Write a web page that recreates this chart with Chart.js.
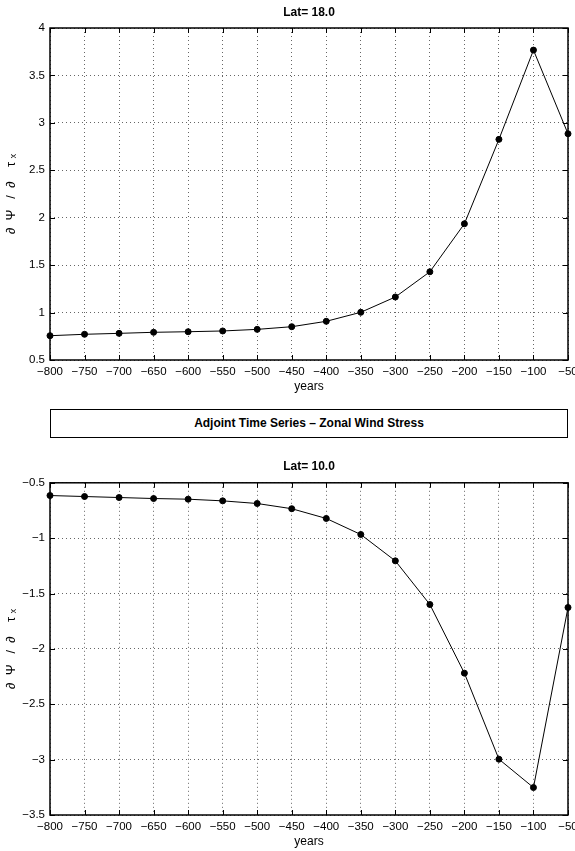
<!DOCTYPE html>
<html>
<head>
<meta charset="utf-8">
<script src="https://cdn.jsdelivr.net/npm/chart.js@4.4.1/dist/chart.umd.min.js"></script>
<style>
  body { margin: 0; background: #fff; width: 575px; height: 851px; position: relative; overflow: hidden; }
  canvas { position: absolute; left: 0; }
  #top-chart { top: 0; }
  #bottom-chart { top: 440px; }
  #legend-box {
    position: absolute; left: 50px; top: 409px; width: 516px; height: 27px;
    border: 1px solid #000; font: bold 12px "Liberation Sans", Arial, sans-serif;
    text-align: center; line-height: 27px; color: #000;
  }
</style>
</head>
<body>
<canvas id="top-chart" width="575" height="400"></canvas>
<div id="legend-box">Adjoint Time Series &#8211; Zonal Wind Stress</div>
<canvas id="bottom-chart" width="575" height="411"></canvas>
<script>
// x values (years)
const years = [-800, -750, -700, -650, -600, -550, -500, -450, -400, -350, -300, -250, -200, -150, -100, -50];

// dPsi/dTau_x at Lat 18.0
const lat18 = [0.756, 0.771, 0.781, 0.792, 0.798, 0.806, 0.823, 0.851, 0.908, 1.003, 1.164, 1.430, 1.936, 2.826, 3.767, 2.885];

// dPsi/dTau_x at Lat 10.0
const lat10 = [-0.615, -0.624, -0.633, -0.642, -0.648, -0.663, -0.687, -0.734, -0.822, -0.967, -1.205, -1.599, -2.219, -2.996, -3.252, -1.626];

const fontFamily = '"Liberation Sans", Arial, Helvetica, sans-serif';
const minus = v => String(v).replace('-', '\u2212');

// draws the box round the plot and the inward ticks (matlab style)
const frameTicks = {
  id: 'frameTicks',
  afterDraw(chart) {
    const { ctx, chartArea: a, scales } = chart;
    ctx.save();
    ctx.strokeStyle = '#000';
    ctx.lineWidth = 1;
    const len = 5;
    scales.x.ticks.forEach(t => {
      const px = Math.round(scales.x.getPixelForValue(t.value)) + 0.5;
      ctx.beginPath();
      ctx.moveTo(px, a.top); ctx.lineTo(px, a.top + len);
      ctx.moveTo(px, a.bottom); ctx.lineTo(px, a.bottom - len);
      ctx.stroke();
    });
    scales.y.ticks.forEach(t => {
      const py = Math.round(scales.y.getPixelForValue(t.value)) + 0.5;
      ctx.beginPath();
      ctx.moveTo(a.left, py); ctx.lineTo(a.left + len, py);
      ctx.moveTo(a.right, py); ctx.lineTo(a.right - len, py);
      ctx.stroke();
    });
    ctx.lineWidth = 1.5;
    ctx.strokeRect(a.left, a.top, a.right - a.left, a.bottom - a.top);
    ctx.restore();
  }
};

function makeChart(canvasId, title, values, yMin, yMax, titlePadTop, xHeight, titleBottomPad) {
  const ctx = document.getElementById(canvasId).getContext('2d');
  return new Chart(ctx, {
    type: 'line',
    data: {
      datasets: [{
        data: years.map((yr, i) => ({ x: yr, y: values[i] })),
        borderColor: '#000',
        backgroundColor: '#000',
        borderWidth: 1,
        pointRadius: 3,
        pointHoverRadius: 3,
        tension: 0,
        clip: false
      }]
    },
    options: {
      responsive: false,
      animation: false,
      events: [],
      layout: { padding: { left: 0, right: 7, top: 0, bottom: 0 } },
      plugins: {
        legend: { display: false },
        tooltip: { enabled: false },
        title: {
          display: true,
          text: title,
          fullSize: false,
          color: '#000',
          font: { family: fontFamily, size: 12, weight: 'bold', lineHeight: 1.2 },
          padding: { top: titlePadTop, bottom: 8.6 }
        }
      },
      scales: {
        x: {
          type: 'linear',
          min: -800,
          max: -50,
          afterFit: s => { s.height = xHeight; s.paddingLeft = 0; s.paddingRight = 0; },
          border: { display: false, dash: [1, 3] },
          grid: { color: '#666', lineWidth: 1, drawTicks: false },
          ticks: {
            stepSize: 50,
            padding: 5,
            color: '#000',
            maxRotation: 0,
            autoSkip: false,
            font: { family: fontFamily, size: 11.5 },
            callback: v => minus(v)
          },
          title: {
            display: true,
            text: 'years',
            color: '#000',
            font: { family: fontFamily, size: 12 },
            padding: { top: 0, bottom: titleBottomPad }
          }
        },
        y: {
          min: yMin,
          max: yMax,
          afterFit: s => { s.width = 50; s.paddingTop = 0; s.paddingBottom = 0; },
          border: { display: false, dash: [1, 3] },
          grid: { color: '#666', lineWidth: 1, drawTicks: false },
          ticks: {
            stepSize: 0.5,
            padding: 5,
            color: '#000',
            font: { family: fontFamily, size: 11.5 },
            callback: v => minus(v)
          },
          title: {
            display: true,
            text: '\u2202  \u03A8   /  \u2202    \u03C4 \u2093',
            color: '#000',
            font: { family: fontFamily, size: 13 },
            padding: { top: 4, bottom: 0 }
          }
        }
      }
    },
    plugins: [frameTicks]
  });
}

makeChart('top-chart', 'Lat= 18.0', lat18, 0.5, 4, 5, 40, 6);
makeChart('bottom-chart', 'Lat= 10.0', lat10, -3.5, -0.5, 19.8, 36, 2);
</script>
</body>
</html>
